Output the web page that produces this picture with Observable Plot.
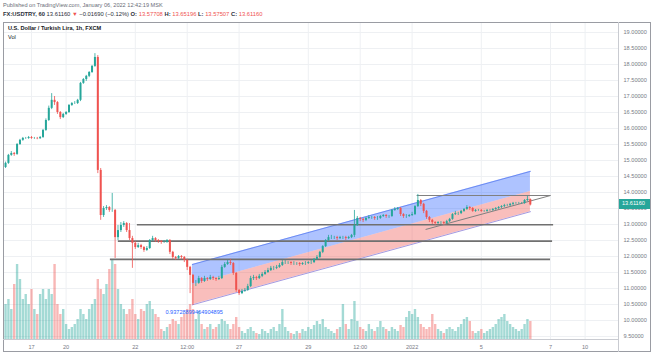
<!DOCTYPE html>
<html><head><meta charset="utf-8">
<script src="https://cdn.jsdelivr.net/npm/d3@7"></script>
<script src="https://cdn.jsdelivr.net/npm/@observablehq/plot@0.6"></script>
<style>
body{margin:0;background:#fff;font-family:"Liberation Sans",Arial,sans-serif;}
#wrap{position:relative;width:654px;height:356px;overflow:hidden;background:#fff;}
#wrap svg{position:absolute;left:0;top:0;}
.t{position:absolute;white-space:nowrap;line-height:1;}
</style></head><body><div id="wrap"></div>
<script>
// x unit = trading days counted from Fri Dec 17 00:00 (weekends removed); one candle = 2 hours
const firstCandleDay = -0.75;
const candleStepDays = 1/12;
const opens = [14.78,14.91,15.16,15.22,15.19,15.50,15.63,15.69,15.69,15.72,
15.69,15.69,15.68,15.72,15.94,16.25,16.63,16.88,16.81,16.50,
16.34,16.44,16.50,16.72,16.78,16.78,16.88,17.41,17.53,17.63,
17.75,17.94,18.22,14.69,13.28,13.50,13.53,13.44,13.44,12.59,
12.81,12.97,13.03,12.81,12.56,12.41,12.28,12.34,12.28,12.19,
12.25,12.50,12.56,12.50,12.47,12.44,12.44,12.50,12.13,11.97,
11.94,12.00,11.97,11.88,11.66,11.41,11.16,11.16,11.31,11.22,
11.31,11.28,11.34,11.31,11.28,11.31,11.66,11.75,11.81,11.78,
11.47,10.94,10.84,10.91,10.94,11.06,11.31,11.34,11.31,11.38,
11.44,11.50,11.56,11.63,11.63,11.66,11.72,11.81,11.81,11.81,
11.78,11.78,11.78,11.75,11.78,11.78,11.81,11.81,11.91,11.97,
12.13,12.31,12.50,12.59,12.59,12.59,12.56,12.59,12.59,12.56,
12.59,12.66,12.97,13.19,13.16,13.13,13.19,13.22,13.22,13.19,
13.19,13.25,13.28,13.25,13.25,13.44,13.47,13.50,13.31,13.25,
13.25,13.28,13.31,13.56,13.75,13.63,13.41,13.22,13.13,13.06,
13.03,13.06,13.06,13.03,13.09,13.16,13.31,13.34,13.34,13.41,
13.47,13.53,13.50,13.41,13.44,13.44,13.41,13.41,13.44,13.44,
13.47,13.50,13.53,13.56,13.59,13.59,13.63,13.66,13.66,13.66,
13.66,13.75,13.78];
const closes = [14.91,15.16,15.22,15.19,15.50,15.63,15.69,15.69,15.72,15.69,
15.69,15.68,15.72,15.94,16.25,16.63,16.88,16.81,16.50,16.34,
16.44,16.50,16.72,16.78,16.78,16.88,17.41,17.53,17.63,17.75,
17.94,18.22,14.69,13.28,13.50,13.53,13.44,13.44,12.59,12.81,
12.97,13.03,12.81,12.56,12.41,12.28,12.34,12.28,12.19,12.25,
12.50,12.56,12.50,12.47,12.44,12.44,12.50,12.13,11.97,11.94,
12.00,11.97,11.88,11.66,11.41,11.16,11.16,11.31,11.22,11.31,
11.28,11.34,11.31,11.28,11.31,11.66,11.75,11.81,11.78,11.47,
10.94,10.84,10.91,10.94,11.06,11.31,11.34,11.31,11.38,11.44,
11.50,11.56,11.63,11.63,11.66,11.72,11.81,11.81,11.81,11.78,
11.78,11.78,11.75,11.78,11.78,11.81,11.81,11.91,11.97,12.13,
12.31,12.50,12.59,12.59,12.59,12.56,12.59,12.59,12.56,12.59,
12.66,12.97,13.19,13.16,13.13,13.19,13.22,13.22,13.19,13.19,
13.25,13.28,13.25,13.25,13.44,13.47,13.50,13.31,13.25,13.25,
13.28,13.31,13.56,13.75,13.63,13.41,13.22,13.13,13.06,13.03,
13.06,13.06,13.03,13.09,13.16,13.31,13.34,13.34,13.41,13.47,
13.53,13.50,13.41,13.44,13.44,13.41,13.41,13.44,13.44,13.47,
13.50,13.53,13.56,13.59,13.59,13.63,13.66,13.66,13.66,13.66,
13.75,13.78,13.61];
const highs = [14.95,15.19,15.28,15.25,15.53,15.66,15.72,15.72,15.75,15.75,
15.72,15.72,15.75,15.97,16.30,16.70,17.09,17.00,16.84,16.53,
16.47,16.53,16.75,16.81,16.84,16.91,17.44,17.56,17.66,17.78,
17.97,18.34,18.28,14.75,13.56,13.59,13.56,13.97,13.47,12.97,
13.06,13.09,13.06,13.03,12.63,12.47,12.41,12.38,12.31,12.31,
12.53,12.63,12.59,12.53,12.50,12.50,12.53,12.53,12.16,12.00,
12.03,12.03,12.00,11.91,11.69,11.44,11.25,11.38,11.34,11.38,
11.34,11.41,11.38,11.34,11.38,11.72,11.81,11.88,11.91,11.81,
11.50,10.97,10.97,11.00,11.13,11.38,11.41,11.38,11.44,11.50,
11.56,11.63,11.69,11.69,11.72,11.78,11.88,11.88,11.84,11.84,
11.84,11.81,11.81,11.81,11.84,11.84,11.88,11.94,12.03,12.16,
12.34,12.53,12.66,12.66,12.63,12.63,12.63,12.63,12.63,12.63,
12.69,13.44,13.25,13.22,13.19,13.22,13.28,13.25,13.25,13.25,
13.28,13.31,13.31,13.28,13.47,13.53,13.53,13.53,13.34,13.31,
13.31,13.38,13.59,13.94,13.78,13.66,13.44,13.25,13.16,13.09,
13.09,13.09,13.09,13.13,13.19,13.34,13.41,13.38,13.44,13.50,
13.59,13.56,13.53,13.47,13.47,13.47,13.44,13.47,13.47,13.50,
13.53,13.56,13.59,13.63,13.63,13.66,13.69,13.69,13.69,13.69,
13.78,13.88,13.80];
const lows = [14.75,14.88,15.13,15.13,15.16,15.47,15.60,15.66,15.66,15.66,
15.66,15.65,15.66,15.69,15.91,16.22,16.59,16.72,16.44,16.28,
16.31,16.41,16.47,16.69,16.75,16.75,16.84,17.38,17.47,17.59,
17.72,17.91,14.59,13.13,13.22,13.44,13.38,13.38,11.94,12.50,
12.75,12.91,12.75,12.50,11.63,12.22,12.25,12.22,12.13,12.16,
12.22,12.47,12.44,12.41,12.38,12.41,12.41,12.06,11.91,11.88,
11.91,11.91,11.81,11.56,10.84,10.47,11.06,11.13,11.16,11.19,
11.22,11.25,11.25,11.22,11.25,11.28,11.63,11.72,11.72,11.41,
10.88,10.78,10.81,10.88,10.91,11.03,11.25,11.25,11.28,11.34,
11.41,11.47,11.53,11.56,11.59,11.63,11.69,11.75,11.75,11.72,
11.72,11.72,11.69,11.72,11.72,11.75,11.75,11.78,11.88,11.94,
12.09,12.28,12.47,12.53,12.53,12.50,12.53,12.53,12.50,12.53,
12.56,12.59,12.94,13.09,13.06,13.09,13.16,13.16,13.13,13.13,
13.16,13.22,13.19,13.19,13.22,13.41,13.44,13.25,13.19,13.19,
13.22,13.25,13.28,13.53,13.56,13.34,13.16,13.06,13.00,12.97,
13.00,13.00,12.97,13.00,13.06,13.13,13.28,13.28,13.31,13.38,
13.44,13.44,13.38,13.38,13.41,13.38,13.38,13.38,13.41,13.41,
13.44,13.47,13.50,13.53,13.56,13.56,13.59,13.63,13.63,13.63,
13.63,13.72,13.58];
const volumes = [35,40,30,55,75,60,40,45,35,50,
30,25,45,50,40,50,45,75,35,25,
30,15,10,12,15,20,30,25,20,30,
35,40,60,50,45,55,70,80,75,50,
35,30,25,30,40,25,20,30,28,35,
38,30,25,22,10,8,12,15,20,18,
15,22,25,30,35,30,20,28,15,10,
12,15,10,12,15,20,18,15,10,15,
22,12,8,6,10,12,8,6,5,10,
8,6,10,12,8,15,30,12,8,6,
5,8,6,10,8,12,10,14,18,15,
20,12,10,8,6,10,12,35,15,10,
20,38,18,12,10,8,15,10,8,12,
18,12,10,8,12,10,8,14,12,22,
28,25,30,22,15,12,10,12,25,15,
10,8,6,10,12,10,8,12,15,20,
22,18,8,6,8,10,6,8,10,12,
15,20,22,25,18,15,12,10,8,10,
15,20,18];

const priceTicks = [9.5,10,10.5,11,11.5,12,12.5,13,13.5,14,14.5,15,15.5,16,16.5,17,17.5,18,18.5,19];
const timeTickDays = [0,1,3,4.5,6,8,9.5,11,13,15,16];
const timeTickLabels = ["17","20","22","12:00","27","29","12:00","2022","5","7","10"];

// regression channel
const channelDays = [4.65, 14.42];
const channelUpper = [11.75, 14.66];
const channelMid = [11.12, 14.03];
const channelLower = [10.49, 13.40];
const channelLabel = "0.93728899464904895";
const channelLabelDay = 3.87, channelLabelPrice = 10.25;

// horizontal levels
const levelPrices = [12.99, 12.48, 11.91];
const levelStartDays = [3.06, 2.51, 2.28];
const levelEndDays = [15.09, 15.06, 15.0];

// triangle
const triTopPrice = 13.906;
const triStartDay = 11.13, triEndDay = 15.0;
const triLowStartDay = 11.39, triLowStartPrice = 12.844;

const lastPrice = 13.6116;

const UP = "#26a69a", DOWN = "#ef5350";
const candles = closes.map((c, i) => ({d: firstCandleDay + i * candleStepDays, o: opens[i], h: highs[i], l: lows[i], c, v: volumes[i]}));
const channel = channelDays.map((d, i) => ({d, up: channelUpper[i], mid: channelMid[i], lo: channelLower[i]}));
const levels = levelPrices.map((p, i) => ({p, s: levelStartDays[i], e: levelEndDays[i]}));

const W = 654, H = 356, ML = 3, MR = 36, MT = 23, MB = 17;
const xDomain = [-0.809, 16.965];
const yDomain = [9.406, 19.281];
const common = {width: W, height: H, marginLeft: ML, marginRight: MR, marginBottom: MB,
  style: {background: "transparent", fontFamily: "Liberation Sans, Arial, sans-serif", fontSize: "5.6px", color: "#787b86"}};

const gridPlot = Plot.plot({...common, marginTop: MT,
  x: {domain: xDomain, axis: null}, y: {domain: yDomain, axis: null},
  marks: [
    Plot.ruleY(priceTicks, {stroke: "#eef0f3", strokeWidth: 1}),
    Plot.ruleX(timeTickDays, {stroke: "#eef0f3", strokeWidth: 1})
  ]});

const volPlot = Plot.plot({...common, marginTop: 239,
  x: {domain: xDomain, axis: null}, y: {domain: [0, 100], axis: null},
  marks: [
    Plot.ruleX(candles, {x: "d", y1: 0, y2: "v", stroke: d => d.c >= d.o ? "rgba(38,166,154,0.42)" : "rgba(239,83,80,0.42)", strokeWidth: 2.4})
  ]});

const mainPlot = Plot.plot({...common, marginTop: MT,
  x: {domain: xDomain, ticks: timeTickDays, tickFormat: d => timeTickLabels[timeTickDays.indexOf(d)], tickSize: 0, tickPadding: 6, label: null},
  y: {domain: yDomain, axis: "right", ticks: priceTicks, tickFormat: d => d.toFixed(5), tickSize: 0, tickPadding: 5, label: null},
  marks: [
    Plot.areaY(channel, {x: "d", y1: "mid", y2: "up", fill: "#2962ff", fillOpacity: 0.38}),
    Plot.areaY(channel, {x: "d", y1: "lo", y2: "mid", fill: "#ef5350", fillOpacity: 0.38}),
    Plot.line(channel, {x: "d", y: "up", stroke: "#5b7cf0", strokeWidth: 0.8}),
    Plot.line(channel, {x: "d", y: "lo", stroke: "#8b7fd8", strokeWidth: 0.8}),
    Plot.ruleY(levels, {y: "p", x1: "s", x2: "e", stroke: "#707070", strokeWidth: 1.6}),
    Plot.link([{x1: triStartDay, y1: triTopPrice, x2: triEndDay, y2: triTopPrice}, {x1: triLowStartDay, y1: triLowStartPrice, x2: triEndDay, y2: triTopPrice}],
      {x1: "x1", y1: "y1", x2: "x2", y2: "y2", stroke: "#808080", strokeWidth: 1}),
    Plot.ruleX(candles, {x: "d", y1: "l", y2: "h", stroke: d => d.c >= d.o ? UP : DOWN, strokeWidth: 0.8}),
    Plot.ruleX(candles, {x: "d", y1: "o", y2: "c", stroke: d => d.c >= d.o ? UP : DOWN, strokeWidth: 2}),
    Plot.text([{d: channelLabelDay, p: channelLabelPrice}], {x: "d", y: "p", text: () => channelLabel, fill: "#2962ff", fontSize: 5.6, textAnchor: "start"})
  ]});

const wrap = document.getElementById("wrap");
wrap.append(gridPlot, volPlot, mainPlot);

function addText(html, left, top, css) {
  const el = document.createElement("div");
  el.className = "t"; el.innerHTML = html;
  el.style.left = left + "px"; el.style.top = top + "px";
  Object.assign(el.style, css || {});
  wrap.append(el); return el;
}
function addBox(left, top, w, h, css) {
  const el = document.createElement("div");
  el.style.position = "absolute"; el.style.left = left + "px"; el.style.top = top + "px";
  el.style.width = w + "px"; el.style.height = h + "px"; Object.assign(el.style, css);
  wrap.append(el); return el;
}
// frame
addBox(3, 22, 648, 330, {border: "1px solid #9a9ca3", boxSizing: "border-box"});
addBox(618, 22, 1, 330, {background: "#c9cbd1"});
addBox(3, 339, 615, 1, {background: "#c9cbd1"});

const red = "#ef5350";
addText("Published on TradingView.com, January 06, 2022 12:42:19 MSK", 3, 3, {fontSize: "5.6px", color: "#6a6d78"});
addText(`<b>FX:USDTRY, 60</b> 13.61160 <span style="color:${red}">▼</span> −0.01690 (−0.12%) <b>O:</b> <span style="color:${red}">13.57708</span> <b>H:</b> <span style="color:${red}">13.65196</span> <b>L:</b> <span style="color:${red}">13.57507</span> <b>C:</b> <span style="color:${red}">13.61160</span>`, 3, 12, {fontSize: "5.8px", color: "#2a2e39"});
addText("<b>U.S. Dollar / Turkish Lira, 1h, FXCM</b>", 8, 26, {fontSize: "5.6px", color: "#131722"});
addText("Vol", 8, 34.5, {fontSize: "5.6px", color: "#131722"});

const yLast = mainPlot.scale("y").apply(lastPrice);
addBox(619, yLast - 5, 31, 10, {background: UP});
addText(lastPrice.toFixed(5), 622, yLast - 3, {fontSize: "5.6px", color: "#fff"});
</script></body></html>
